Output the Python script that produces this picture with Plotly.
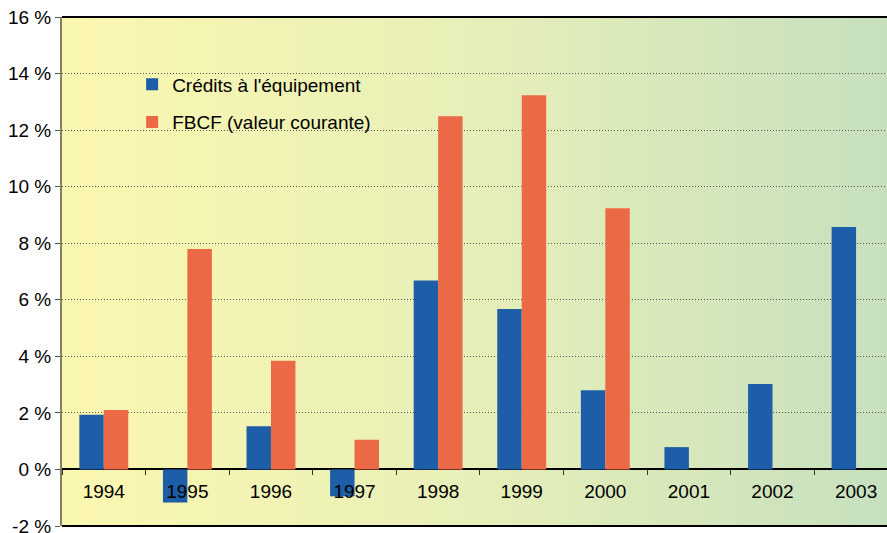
import plotly.graph_objects as go

years = ["1994", "1995", "1996", "1997", "1998", "1999", "2000", "2001", "2002", "2003"]
credits = [1.93, -1.17, 1.53, -0.95, 6.68, 5.67, 2.8, 0.79, 3.02, 8.57]
fbcf = [2.1, 7.8, 3.84, 1.05, 12.49, 13.23, 9.24, None, None, None]
y_ticks = [-2, 0, 2, 4, 6, 8, 10, 12, 14, 16]
y_labels = ["-2 %", "0 %", "2 %", "4 %", "6 %", "8 %", "10 %", "12 %", "14 %", "16 %"]

BLUE = "#1e5ea8"
ORANGE = "#ec6946"
FONT = "Liberation Sans, Arial, sans-serif"


def bg_gradient(n=120):
    # yellow on the left fading to pale green on the right
    stops = [(0.0, (251, 247, 176)), (0.5, (231, 239, 184)), (1.0, (198, 224, 190))]
    shapes = []
    for i in range(n):
        t = (i + 0.5) / n
        for (a, ca), (b, cb) in zip(stops, stops[1:]):
            if a <= t <= b:
                f = (t - a) / (b - a)
                c = tuple(round(ca[k] + (cb[k] - ca[k]) * f) for k in range(3))
                break
        shapes.append(dict(
            type="rect", xref="paper", yref="paper",
            x0=i / n, x1=(i + 1) / n + 0.002, y0=0, y1=1,
            fillcolor="rgb(%d,%d,%d)" % c, line=dict(width=0), layer="below",
        ))
    return shapes


fig = go.Figure()
fig.add_trace(go.Bar(x=years, y=credits, name="Crédits à l'équipement",
                     marker=dict(color=BLUE, line=dict(width=0)), legendgroup="a"))
fig.add_trace(go.Bar(x=years, y=fbcf, name="FBCF (valeur courante)",
                     marker=dict(color=ORANGE, line=dict(width=0)), legendgroup="b"))

shapes = bg_gradient()
for yy in (0, 1):
    shapes.append(dict(type="line", xref="paper", yref="paper", x0=0, x1=1, y0=yy, y1=yy,
                       line=dict(color="black", width=2)))

fig.update_layout(
    width=887, height=533,
    margin=dict(l=62, r=0, t=17, b=7),
    paper_bgcolor="white",
    plot_bgcolor="rgba(0,0,0,0)",
    font=dict(family=FONT, size=19, color="black"),
    barmode="group",
    bargap=0.415,
    bargroupgap=0,
    shapes=shapes,
    showlegend=True,
    legend=dict(
        x=0.085, y=0.905, xanchor="left", yanchor="top",
        bgcolor="rgba(0,0,0,0)", font=dict(size=19, family=FONT),
        tracegroupgap=10, traceorder="grouped",
    ),
    xaxis=dict(
        type="category", range=[-0.5, 9.37],
        anchor="free", position=2 / 18, automargin=False,
        showline=False, showgrid=False,
        ticks="outside", tickson="boundaries", ticklen=5, tickcolor="#333",
        ticklabelstandoff=9,
        tickfont=dict(size=19, family=FONT),
    ),
    yaxis=dict(
        range=[-2, 16], tickvals=y_ticks, ticktext=y_labels, automargin=False,
        showline=True, linecolor="#85805e", linewidth=2,
        ticks="outside", ticklen=5, tickcolor="#555",
        ticklabeloverflow="allow",
        showgrid=True, gridcolor="#555", griddash="1px,2px", gridwidth=1.2,
        zeroline=True, zerolinecolor="black", zerolinewidth=2,
        tickfont=dict(size=19, family=FONT),
    ),
)

fig.write_html("out.html", config={"displayModeBar": False},
               post_script="document.body.style.margin='0';")
